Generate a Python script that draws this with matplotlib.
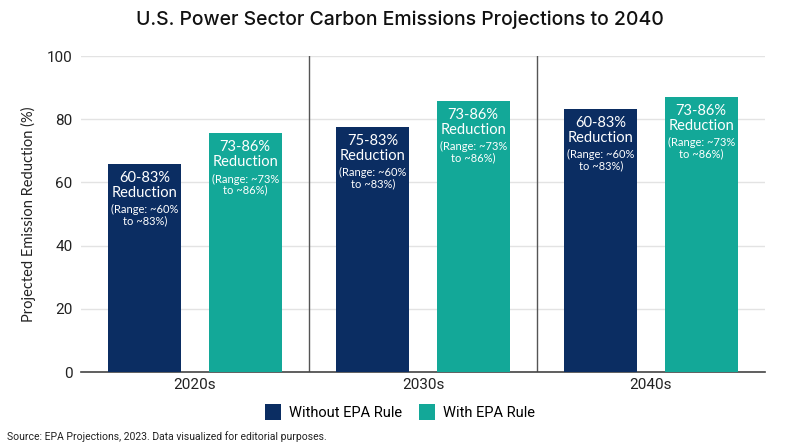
import numpy as np
import matplotlib
matplotlib.use("Agg")
import matplotlib.pyplot as plt
from matplotlib.patches import Patch

decades = ["2020s", "2030s", "2040s"]
without_rule = [65.8, 77.6, 83.2]
with_rule = [75.5, 85.8, 87.0]
without_main = ["60-83%\nReduction", "75-83%\nReduction", "60-83%\nReduction"]
without_range = ["(Range: ~60%\nto ~83%)", "(Range: ~60%\nto ~83%)", "(Range: ~60%\nto ~83%)"]
with_main = ["73-86%\nReduction", "73-86%\nReduction", "73-86%\nReduction"]
with_range = ["(Range: ~73%\nto ~86%)", "(Range: ~73%\nto ~86%)", "(Range: ~73%\nto ~86%)"]

navy = "#0b2d62"
teal = "#13a898"

plt.rcParams['font.family'] = ['Roboto', 'DejaVu Sans']
geo = ["Lato", "DejaVu Sans"]

fig = plt.figure(figsize=(8, 4.47), dpi=100)
ax = fig.add_axes([81/800, 1-372/447, 684/800, 316/447])

x = np.arange(len(decades))
w = 0.32
off = 0.22
b1 = ax.bar(x - off, without_rule, w, color=navy, zorder=3)
b2 = ax.bar(x + off, with_rule, w, color=teal, zorder=3)

# labels inside bars
for bars, mains, ranges in [(b1, without_main, without_range), (b2, with_main, with_range)]:
    for b, m, r in zip(bars, mains, ranges):
        cx = b.get_x() + b.get_width()/2
        top = b.get_height()
        ax.annotate(m, (cx, top), xytext=(0, -5), textcoords="offset points",
                    ha="center", va="top", color="white", fontsize=10.5, linespacing=1.1,
                    family=geo, zorder=4)
        ax.annotate(r, (cx, top), xytext=(0, -29), textcoords="offset points",
                    ha="center", va="top", color="white", fontsize=8, linespacing=1.0,
                    family=geo, zorder=4)

ax.set_xlim(-0.5, 2.5)
ax.set_ylim(0, 100)
ax.set_yticks([0, 20, 40, 60, 80, 100])
ax.set_xticks(x)
ax.set_xticklabels(decades)
ax.tick_params(axis="both", length=0, labelsize=11, colors="#222222")
ax.tick_params(axis="y", pad=6)
ax.tick_params(axis="x", pad=4)
ax.grid(axis="y", color="#e3e3e3", linewidth=1, zorder=0)
for xs in [0.5, 1.5]:
    ax.axvline(xs, color="#555555", linewidth=1, zorder=2)
for s in ["top", "right", "left"]:
    ax.spines[s].set_visible(False)
ax.spines["bottom"].set_color("#444444")
ax.spines["bottom"].set_linewidth(1.2)
ax.set_ylabel("Projected Emission Reduction (%)", fontsize=10.5, color="#222222", labelpad=8,
              family=geo)

fig.text(0.5, 1-20/447, "U.S. Power Sector Carbon Emissions Projections to 2040",
         ha="center", va="center", fontsize=14, family=["Inter", "DejaVu Sans"], weight="medium",
         color="#111111")

handles = [Patch(facecolor=navy, label="Without EPA Rule"), Patch(facecolor=teal, label="With EPA Rule")]
fig.legend(handles=handles, loc="center", bbox_to_anchor=(0.5, 1-412/447), ncol=2, frameon=False,
           fontsize=10.5, handlelength=1.1, handleheight=1.3, handletextpad=0.5, columnspacing=1.2)

fig.text(7/800, 1-437/447, "Source: EPA Projections, 2023. Data visualized for editorial purposes.",
         ha="left", va="center", fontsize=7.5, color="#222222")

fig.savefig("out.png", dpi=100)
